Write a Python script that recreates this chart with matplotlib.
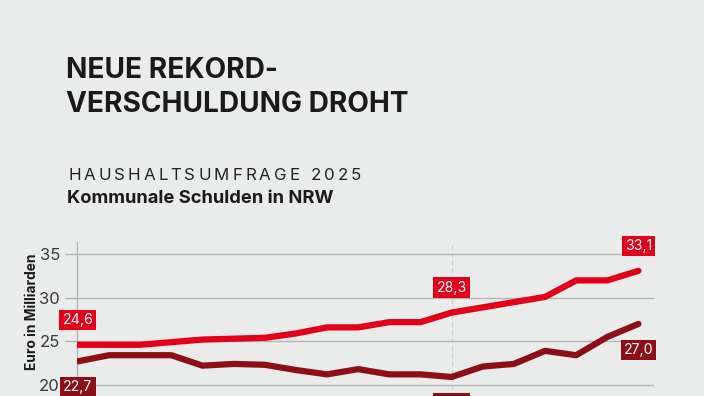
import numpy as np
import matplotlib.pyplot as plt

# Kommunale Schulden in NRW, Mrd. Euro (Werte aus der Grafik geschätzt)
jahre = list(range(2007, 2026))
schulden_a = [24.6, 24.6, 24.6, 24.9, 25.2, 25.3, 25.4, 25.9, 26.6, 26.6, 27.2, 27.2,
              28.3, 28.9, 29.5, 30.1, 32.0, 32.0, 33.1]
schulden_b = [22.7, 23.4, 23.4, 23.4, 22.2, 22.4, 22.3, 21.7, 21.2, 21.8, 21.2, 21.2,
              20.9, 22.1, 22.4, 23.9, 23.4, 25.5, 27.0]
label_a = {0: "24,6", 12: "28,3", 18: "33,1"}
label_b = {0: "22,7", 12: "20,9", 18: "27,0"}
yticks = [15, 20, 25, 30, 35]

bg = "#eaebeb"
rot = "#e2001a"
dunkelrot = "#8c0f18"
grau = "#b4b4b4"

plt.rcParams['font.family'] = ['Inter', 'DejaVu Sans']

W, H = 704, 396
fig = plt.figure(figsize=(W / 100, H / 100), dpi=100, facecolor=bg)

def fx(px):
    return px / W

def fy(py):
    return 1 - py / H

# Titel
fig.text(fx(66), fy(78), "NEUE REKORD-", fontsize=20.2, fontweight='bold',
         color="#1a1a1a", va='baseline')
fig.text(fx(66), fy(112), "VERSCHULDUNG DROHT", fontsize=20.2, fontweight='bold',
         color="#1a1a1a", va='baseline')

# Untertitel mit Sperrung
renderer = fig.canvas.get_renderer()
sub = "HAUSHALTSUMFRAGE 2025"
breiten = []
for ch in sub:
    if ch == " ":
        breiten.append(5.0)
        continue
    t = fig.text(0, 0, ch, fontsize=12.2)
    breiten.append(t.get_window_extent(renderer).width)
    t.remove()
sperr = (293 - sum(breiten)) / (len(sub) - 1)
x = 68
for ch, b in zip(sub, breiten):
    fig.text(fx(x), fy(180), ch, fontsize=12.2, color="#222222", va='baseline')
    x += b + sperr

fig.text(fx(67), fy(202.7), "Kommunale Schulden in NRW", fontsize=13.2,
         fontweight='bold', color="#1a1a1a", va='baseline')

# Diagramm
ymin, ymax = 10, 36.45
px_unit = 8.7
top_px = 341.3 - (ymax - 25) * px_unit
bot_px = 341.3 + (25 - ymin) * px_unit
ax = fig.add_axes([fx(77.3), fy(bot_px), fx(654) - fx(77.3), (bot_px - top_px) / H])
ax.set_facecolor(bg)
ax.set_xlim(-0.02, 18.5)
ax.set_ylim(ymin, ymax)

xs = np.arange(len(jahre))
ax.plot(xs, schulden_b, color=dunkelrot, lw=4.5, solid_capstyle='round',
        solid_joinstyle='round', zorder=3)
ax.plot(xs, schulden_a, color=rot, lw=4.5, solid_capstyle='round',
        solid_joinstyle='round', zorder=4)

ax.set_yticks(yticks)
ax.set_yticklabels([str(v) for v in yticks])
ax.set_xticks([])
ax.grid(axis='y', color=grau, lw=1)
ax.tick_params(axis='y', length=9, color=grau, width=1, labelsize=12,
               labelcolor="#3a3a3a", pad=3.5)
for s in ['top', 'right', 'bottom']:
    ax.spines[s].set_visible(False)
ax.spines['left'].set_color(grau)
ax.spines['left'].set_linewidth(1)
ax.axvline(12, color="#cfcfcf", lw=0.8, ls=(0, (4, 3)), zorder=1)

fig.text(fx(32), fy(312), "Euro in Milliarden", rotation=90, fontsize=9.9,
         fontweight='bold', color="#1a1a1a", ha='center', va='center')

def marke(i, wert, text, farbe, dy):
    ax.annotate(text, (i, wert), xytext=(0, dy), textcoords='offset pixels',
                ha='center', va='center', fontsize=10.2, color='white',
                bbox=dict(boxstyle='square,pad=0.22', fc=farbe, ec='none'),
                zorder=6, annotation_clip=False)

for i, t in label_a.items():
    marke(i, schulden_a[i], t, rot, 25)
for i, t in label_b.items():
    marke(i, schulden_b[i], t, dunkelrot, -26)

fig.savefig("out.png", dpi=100, facecolor=bg)
